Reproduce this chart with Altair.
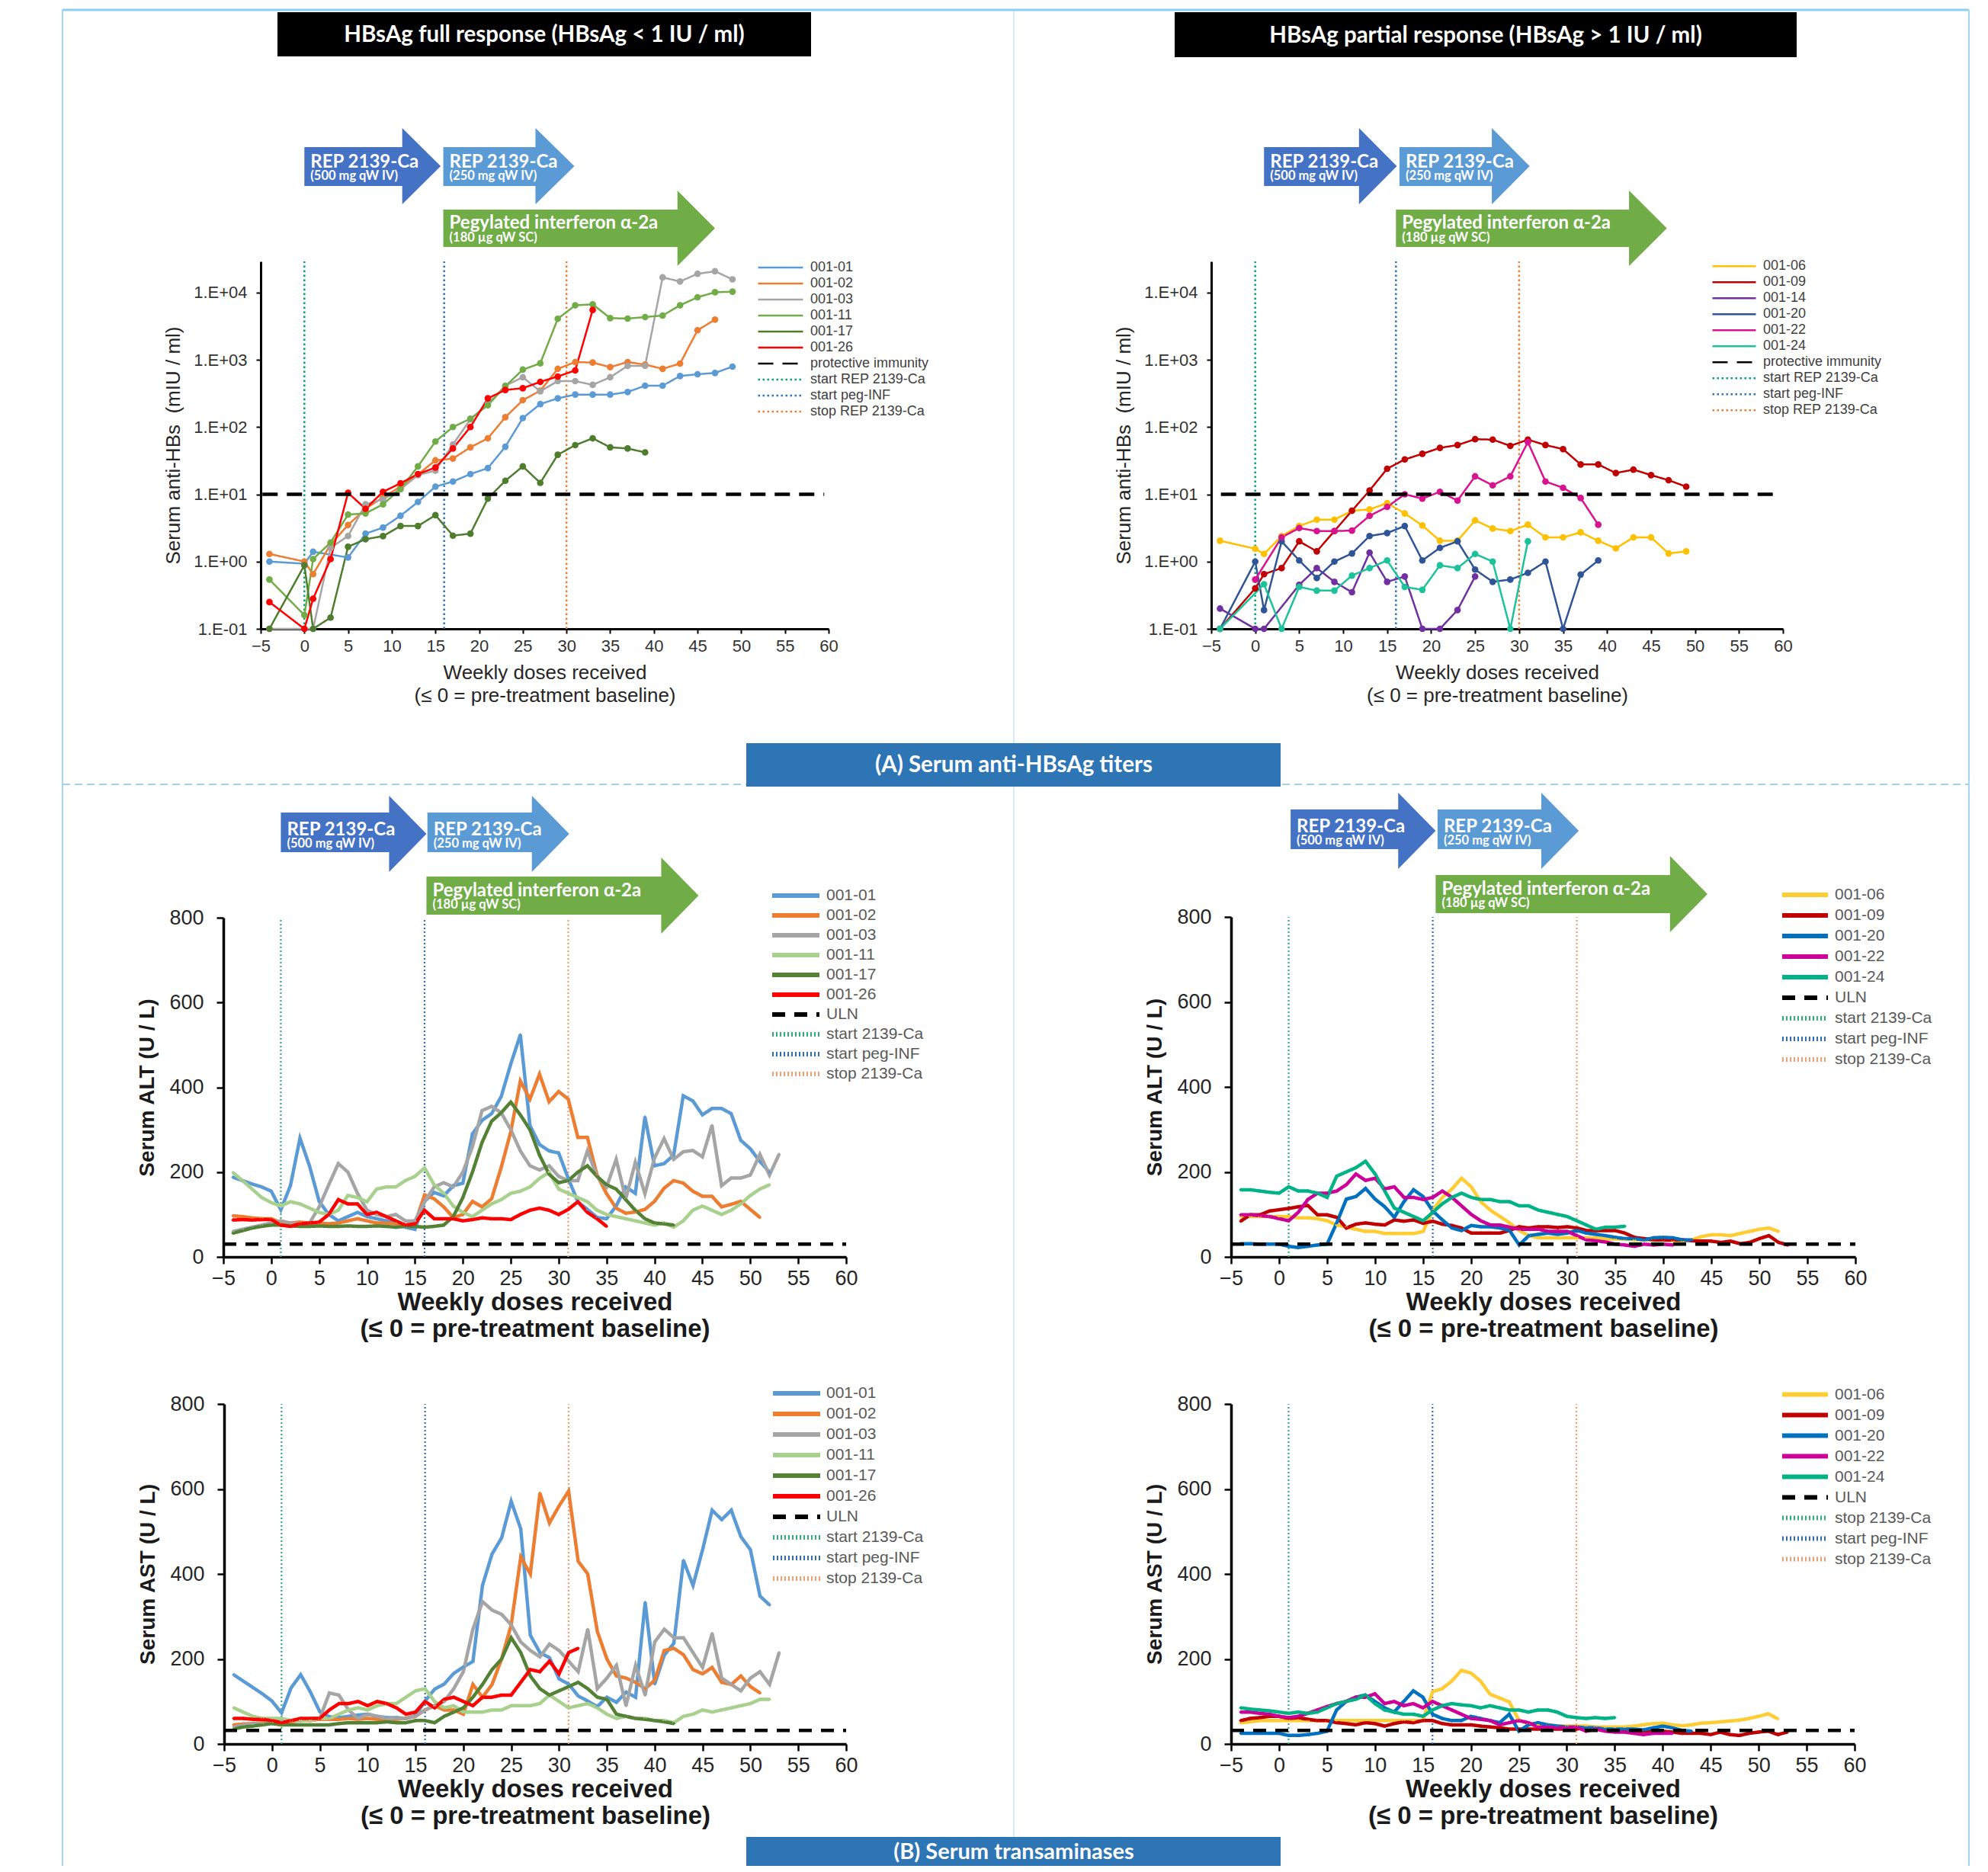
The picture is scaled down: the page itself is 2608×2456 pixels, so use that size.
import altair as alt
import pandas as pd

W, H = 2592, 2440


def P(v):
    return v - 8


AXF = "Liberation Sans"
BXF = "Lato"

# ---------------- (A) anti-HBs titers (mIU/ml) ----------------
TW = [-4, 0, 1, 3, 5, 7, 9, 11, 13, 15, 17, 19, 21, 23, 25, 27, 29, 31, 33, 35, 37, 39, 41, 43, 45, 47, 49]

anti_weeks_0101 = [-4, 0, 1, 5, 7, 9, 11, 13, 15, 17, 19, 21, 23, 25, 27, 29, 31, 33, 35, 37, 39, 41, 43, 45, 47, 49]
anti_0101 = [1.0, 0.93, 1.4, 1.15, 2.6, 3.2, 4.8, 7.7, 13, 15.5, 20, 24.5, 51, 136, 220, 267, 304, 304, 304, 332, 412, 412, 574, 610, 637, 792]
anti_0102 = [1.3, 1.0, 0.65, 1.8, 3.5, 6.1, 9.0, 13, 19.8, 32, 34, 50, 68, 140, 251, 347, 733, 926, 910, 778, 926, 849, 735, 879, 2750, 3960]
anti_0103 = [0.1, 0.1, 0.1, 1.6, 2.4, 7.1, 8.4, 11.9, 19.3, 22.5, 55, 130, 220, 412, 550, 340, 482, 482, 424, 550, 813, 813, 16800, 14600, 19000, 20700, 15700]
anti_0111 = [0.54, 0.16, 1.09, 1.92, 5.0, 5.2, 7.1, 12, 26, 61, 100, 133, 211, 405, 714, 886, 4070, 6460, 6680, 4170, 4100, 4320, 4550, 6460, 8510, 10100, 10300]
anti_0117 = [0.1, 0.88, 0.1, 0.147, 1.66, 2.15, 2.39, 3.38, 3.38, 4.9, 2.43, 2.6, 8.65, 15.9, 26, 14.8, 38.7, 53.8, 68, 50, 48, 42]
anti_0126 = [0.25, 0.1, 0.28, 1.09, 10.5, 6.1, 10.9, 14.6, 20, 25, 48, 100, 267, 356, 378, 470, 564, 695, 5510]

anti_0106 = [2.04, 1.55, 1.3, 2.39, 3.38, 4.2, 4.2, 5.7, 5.95, 7.4, 5.2, 3.44, 2.04, 2.04, 4.1, 3.1, 2.84, 3.53, 2.29, 2.29, 2.72, 2.04, 1.57, 2.29, 2.29, 1.32, 1.42]
anti_0109 = [0.1, 0.4, 0.65, 0.8, 2.0, 1.42, 2.84, 5.7, 11.4, 24, 33, 40, 49, 54, 66, 65, 52.5, 65, 54, 47, 27.8, 27.8, 20.7, 23.3, 19.3, 16.2, 13]
anti_weeks_0114 = [-4, 0, 1, 5, 7, 9, 11, 13, 15, 17, 19, 21, 23, 25]
anti_0114 = [0.2, 0.1, 0.1, 0.45, 0.8, 0.5, 0.35, 1.36, 0.5, 0.6, 0.1, 0.1, 0.19, 0.6]
anti_0120 = [0.1, 1.0, 0.19, 2.0, 1.04, 0.57, 1.0, 1.32, 2.4, 2.65, 3.38, 1.04, 1.6, 2.0, 0.76, 0.5, 0.54, 0.68, 1.0, 0.1, 0.64, 1.04]
anti_weeks_0122 = [0, 3, 5, 7, 9, 11, 13, 15, 17, 19, 21, 23, 25, 27, 29, 31, 33, 35, 37, 39]
anti_0122 = [0.54, 2.29, 3.15, 2.84, 2.84, 2.89, 4.79, 6.5, 10, 8.65, 10.9, 8.07, 18.5, 13.6, 18.5, 59.7, 15.5, 12.5, 8.8, 3.53]
anti_weeks_0124 = [-4, 1, 3, 5, 7, 9, 11, 13, 15, 17, 19, 21, 23, 25, 27, 29, 31]
anti_0124 = [0.1, 0.46, 0.1, 0.42, 0.37, 0.37, 0.62, 0.8, 1.04, 0.42, 0.38, 0.88, 0.8, 1.3, 1.0, 0.1, 2.0]

# ---------------- (B) ALT (U/L), weekly from week -4 ----------------
alt_0101 = [188, 180, 172, 165, 155, 111, 168, 280, 214, 131,
            100, 85, 95, 105, 95, 90, 85, 80, 70, 65,
            131, 152, 144, 168, 174, 290, 322, 338, 378, 455,
            524, 310, 265, 250, 245, 185, 130, 112, 93, 90,
            120, 165, 150, 330, 215, 220, 240, 380, 368, 335,
            350, 350, 338, 275, 255, 225, 200]
alt_0102 = [97, 95, 92, 90, 90, 81, 80, 82, 80, 80,
            78, 80, 85, 90, 85, 80, 80, 78, 75, 78,
            146, 137, 118, 93, 100, 131, 118, 137, 211, 295,
            415, 372, 431, 366, 390, 372, 282, 282, 193, 149,
            115, 103, 106, 112, 131, 162, 180, 174, 155, 143,
            143, 118, 124, 131, 112, 93]
alt_0103 = [60, 65, 70, 75, 80, 85, 80, 78, 80, 118,
            170, 220, 200, 150, 110, 100, 95, 100, 85, 85,
            130, 165, 175, 165, 200, 260, 345, 355, 340, 300,
            250, 215, 205, 215, 190, 180, 180, 250, 190, 165,
            230, 137, 223, 149, 233, 279, 230, 248, 251, 236,
            310, 168, 186, 186, 193, 242, 193, 242]
alt_0111 = [199, 180, 160, 140, 128, 120, 130, 125, 115, 105,
            100, 110, 145, 140, 130, 160, 165, 165, 180, 190,
            210, 170, 150, 120, 105, 95, 110, 125, 135, 150,
            155, 165, 185, 200, 160, 150, 140, 130, 110, 100,
            95, 90, 85, 80, 75, 80, 70, 85, 110, 120,
            110, 100, 110, 125, 145, 160, 170]
alt_0117 = [56, 62, 68, 72, 75, 75, 73, 72, 72, 73,
            72, 72, 73, 72, 72, 73, 72, 70, 72, 72,
            70, 72, 75, 95, 140, 200, 270, 320, 340, 365,
            335, 300, 240, 195, 175, 180, 200, 215, 190, 170,
            160, 135, 110, 90, 80, 78, 75]
alt_0126 = [87, 88, 87, 88, 88, 75, 72, 78, 80, 82,
            100, 135, 125, 125, 100, 105, 95, 85, 75, 78,
            110, 90, 90, 90, 85, 88, 92, 90, 90, 88,
            100, 110, 115, 110, 100, 112, 130, 105, 90, 72]
alt_0106 = [95, 95, 95, 95, 95, 95, 92, 92, 90, 85,
            75, 70, 65, 60, 60, 55, 55, 55, 55, 60,
            110, 140, 160, 185, 165, 130, 110, 95, 80, 62,
            50, 45, 45, 45, 45, 45, 45, 45, 42, 42,
            42, 40, 40, 40, 40, 38, 38, 40, 48, 52,
            52, 50, 55, 60, 65, 68, 60]
alt_0109 = [84, 99, 99, 108, 111, 114, 118, 121, 99, 99,
            93, 68, 77, 80, 77, 75, 87, 84, 87, 79,
            84, 77, 74, 68, 56, 56, 56, 56, 62, 71,
            68, 71, 71, 69, 71, 68, 62, 62, 62, 62,
            56, 46, 43, 40, 40, 40, 40, 38, 37, 37,
            34, 37, 31, 34, 43, 50, 34, 28]
alt_0120 = [31, 31, 30, 30, 30, 25, 22, 25, 28, 30,
            80, 136, 142, 161, 136, 118, 93, 130, 158, 142,
            108, 87, 68, 62, 74, 71, 71, 68, 62, 28,
            50, 53, 56, 53, 56, 62, 56, 53, 50, 46,
            43, 43, 40, 45, 46, 45, 40, 40]
alt_0122 = [99, 99, 97, 95, 90, 85, 105, 135, 150, 150,
            155, 170, 195, 180, 185, 160, 165, 140, 140, 135,
            140, 155, 140, 120, 100, 85, 75, 75, 70, 65,
            65, 65, 60, 60, 60, 50, 40, 38, 35, 30,
            28, 25, 30, 28, 30, 28]
alt_0124 = [158, 158, 155, 152, 150, 165, 155, 155, 150, 140,
            190, 200, 210, 225, 195, 155, 115, 105, 95, 85,
            105, 125, 140, 150, 140, 135, 135, 130, 130, 120,
            120, 110, 105, 100, 95, 85, 75, 65, 70, 70,
            72]

# ---------------- (B) AST (U/L), weekly from week -4 ----------------
ast_0101 = [163, 148, 133, 118, 101, 73, 132, 163, 123, 76,
            64, 62, 65, 68, 70, 65, 62, 62, 60, 67,
            101, 129, 141, 166, 181, 194, 373, 447, 485, 571,
            506, 256, 215, 203, 153, 141, 113, 101, 88, 110,
            98, 122, 110, 333, 141, 209, 237, 432, 373, 457,
            550, 528, 550, 488, 457, 348, 327]
ast_0102 = [45, 47, 48, 50, 50, 45, 52, 55, 55, 58,
            58, 58, 60, 58, 60, 58, 58, 58, 60, 65,
            80, 90, 80, 80, 70, 140, 110, 140, 200, 280,
            440, 400, 590, 520, 560, 595, 430, 400, 265, 200,
            160, 155, 145, 130, 150, 220, 225, 210, 175, 165,
            180, 145, 140, 160, 135, 120]
ast_0103 = [40, 45, 47, 48, 50, 55, 55, 55, 60, 60,
            120, 115, 80, 60, 70, 65, 60, 60, 60, 65,
            80, 90, 100, 130, 170, 270, 335, 315, 305, 280,
            240, 220, 205, 235, 220, 195, 170, 270, 130, 155,
            185, 90, 185, 115, 240, 270, 250, 250, 215, 180,
            260, 155, 140, 125, 155, 170, 140, 215]
ast_0111 = [85, 75, 65, 60, 60, 60, 55, 55, 55, 60,
            60, 70, 80, 85, 80, 90, 95, 95, 110, 125,
            130, 100, 85, 90, 75, 75, 75, 80, 80, 90,
            90, 90, 95, 115, 100, 85, 90, 95, 85, 70,
            60, 65, 60, 60, 55, 55, 50, 65, 70, 80,
            75, 80, 85, 90, 95, 105, 105]
ast_0117 = [35, 40, 42, 45, 48, 45, 45, 45, 45, 45,
            45, 48, 50, 50, 50, 50, 52, 50, 50, 55,
            55, 50, 65, 75, 85, 110, 140, 175, 200, 250,
            215, 160, 130, 115, 125, 135, 145, 130, 110, 105,
            70, 65, 60, 58, 55, 52, 48]
ast_0126 = [60, 60, 58, 58, 55, 50, 55, 60, 60, 60,
            80, 95, 95, 100, 90, 100, 95, 85, 70, 75,
            100, 85, 105, 110, 100, 90, 110, 110, 115, 115,
            145, 175, 170, 195, 165, 215, 225]
ast_0106 = [50, 52, 55, 55, 55, 55, 55, 55, 55, 55,
            55, 55, 55, 55, 55, 55, 55, 55, 55, 55,
            123, 130, 148, 173, 167, 148, 117, 108, 99, 56,
            48, 45, 45, 42, 42, 42, 42, 40, 40, 40,
            40, 42, 45, 48, 49, 45, 43, 45, 49, 50,
            52, 54, 56, 60, 65, 71, 59]
ast_0109 = [55, 60, 62, 65, 65, 60, 62, 58, 55, 55,
            50, 48, 45, 50, 48, 42, 48, 52, 50, 55,
            55, 48, 45, 45, 45, 42, 40, 38, 35, 35,
            35, 35, 35, 35, 35, 35, 38, 35, 32, 30,
            30, 30, 30, 30, 30, 28, 25, 25, 25, 22,
            28, 22, 20, 25, 28, 30, 22, 28]
ast_0120 = [25, 25, 25, 25, 25, 20, 20, 22, 25, 30,
            80, 100, 110, 115, 100, 85, 75, 100, 125, 110,
            70, 60, 55, 55, 65, 60, 55, 50, 70, 30,
            45, 50, 45, 42, 40, 40, 38, 38, 35, 35,
            35, 35, 33, 38, 42, 38, 32, 30]
ast_0122 = [75, 75, 72, 70, 65, 62, 65, 72, 80, 88,
            95, 100, 110, 110, 118, 95, 100, 90, 95, 85,
            100, 90, 80, 70, 60, 58, 55, 45, 50, 55,
            50, 40, 40, 38, 38, 40, 30, 35, 30, 28,
            28, 25, 22, 25, 25, 25]
ast_0124 = [85, 82, 80, 78, 75, 72, 75, 72, 75, 85,
            95, 100, 105, 115, 95, 80, 75, 70, 70, 65,
            80, 90, 95, 92, 90, 85, 90, 85, 80, 80,
            75, 80, 80, 75, 65, 62, 60, 62, 60, 62]


def wk(vals):
    return list(range(-4, -4 + len(vals)))


FULL = ["001-01", "001-02", "001-03", "001-11", "001-17", "001-26"]
PART_A = ["001-06", "001-09", "001-14", "001-20", "001-22", "001-24"]
PART_B = ["001-06", "001-09", "001-20", "001-22", "001-24"]

REF_A = ["protective immunity", "start REP 2139-Ca", "start peg-INF", "stop REP 2139-Ca"]
REF_B = ["ULN", "start 2139-Ca", "start peg-INF", "stop 2139-Ca"]
REF_B2 = ["ULN", "stop 2139-Ca", "start peg-INF", "stop 2139-Ca "]

XT_A = ["Weekly doses received", "(\u2264 0 = pre-treatment baseline)"]
YT_A = "Serum anti-HBs \u00a0(mIU / ml)"

STYLE_A = dict(sw=2.5, ps=75, pshape="circle", vw=2.5, vdash=[2.5, 3.5], hw=4.5, hdash=[20, 12],
               tfs=22, lc="#333333", xlp=6, ylp=12, ts=6, tw=2, dw=3,
               xtfs=26, ytfs=26, tfw="normal", tc="#262626", xtp=11, ytp=13, xlh=30,
               lfs=18, lsw=2.5, llc="#404040")
STYLE_B = dict(sw=4.5, ps=22, pshape="diamond", vw=2.2, vdash=[2, 3], hw=4.5, hdash=[17, 12],
               tfs=27, lc="#262626", xlp=6.5, ylp=17, ts=9, tw=2.5, dw=3.5,
               xtfs=33, ytfs=28, tfw="bold", tc="#1a1a1a", xtp=2, ytp=14, xlh=35,
               lfs=21, lsw=6, llc="#595959")

VCOL_A = ["#00A86B", "#2E75B6", "#ED7D31"]
VCOL_B = ["#2FAE78", "#2F6EBA", "#F0A070"]

C_ARR1, C_ARR2, C_ARR3 = "#4472C4", "#5B9BD5", "#70AD47"
SUB = 16.5

panels = [
    dict(x0=342, x1=1087, yb=825, yt=343, log=True, ydom=[0.1, 29000], yticks=[0.1, 1, 10, 100, 1000, 10000],
         ytitle=YT_A, xtitle=XT_A, style=STYLE_A,
         names=FULL, colors=["#5B9BD5", "#ED7D31", "#A5A5A5", "#70AD47", "#4E7D2E", "#FF0000"],
         weeks=[anti_weeks_0101, TW[:26], TW, TW, TW[:22], TW[:19]],
         vals=[anti_0101, anti_0102, anti_0103, anti_0111, anti_0117, anti_0126],
         refl=REF_A, refc=["#000000"] + VCOL_A, vweeks=[0, 16, 30], vcolors=VCOL_A,
         href=10, hx=[-4.8, 59.5],
         lx=993, ly=351, lrow=20.4, lsym=59, loff=8,
         arrows=[(0, 11.2, 15.6, 193, 244, 168, 268, C_ARR1), (15.9, 26.45, 30.9, 193, 244, 168, 268, C_ARR2),
                 (15.9, 42.7, 47.0, 275, 324, 250, 349, C_ARR3)],
         texts=[(0, 220, "REP 2139-Ca", 24), (0, 236, "(500 mg qW IV)", SUB),
                (15.9, 220, "REP 2139-Ca", 24), (15.9, 236, "(250 mg qW IV)", SUB),
                (15.9, 300, "Pegylated interferon \u03b1-2a", 24), (15.9, 317, "(180 \u00b5g qW SC)", SUB)]),
    dict(x0=1589, x1=2339, yb=825, yt=343, log=True, ydom=[0.1, 29000], yticks=[0.1, 1, 10, 100, 1000, 10000],
         ytitle=YT_A, xtitle=XT_A, style=STYLE_A,
         names=PART_A, colors=["#FFC000", "#C00000", "#7030A0", "#2F5597", "#D9128F", "#1BC29A"],
         weeks=[TW, TW, anti_weeks_0114, TW[:22], anti_weeks_0122, anti_weeks_0124],
         vals=[anti_0106, anti_0109, anti_0114, anti_0120, anti_0122, anti_0124],
         refl=REF_A, refc=["#000000"] + VCOL_A, vweeks=[0, 16, 30], vcolors=VCOL_A,
         href=10, hx=[-3.9, 59.1],
         lx=2245, ly=349.3, lrow=20.1, lsym=57, loff=8,
         arrows=[(1.0, 11.8, 16.1, 193, 244, 168, 268, C_ARR1), (16.4, 26.9, 31.2, 193, 244, 168, 268, C_ARR2),
                 (16.0, 42.5, 46.8, 275, 324, 250, 349, C_ARR3)],
         texts=[(1.0, 220, "REP 2139-Ca", 24), (1.0, 236, "(500 mg qW IV)", SUB),
                (16.4, 220, "REP 2139-Ca", 24), (16.4, 236, "(250 mg qW IV)", SUB),
                (16.0, 300, "Pegylated interferon \u03b1-2a", 24), (16.0, 317, "(180 \u00b5g qW SC)", SUB)]),
    dict(x0=293, x1=1110, yb=1649, yt=1204, log=False, ydom=[0, 800], yticks=[0, 200, 400, 600, 800],
         ytitle="Serum ALT (U / L)", xtitle=XT_A, style=STYLE_B,
         names=FULL, colors=["#5B9BD5", "#ED7D31", "#A5A5A5", "#A9D18E", "#548235", "#FF0000"],
         weeks=[wk(alt_0101), wk(alt_0102), wk(alt_0103), wk(alt_0111), wk(alt_0117), wk(alt_0126)],
         vals=[alt_0101, alt_0102, alt_0103, alt_0111, alt_0117, alt_0126],
         refl=REF_B, refc=["#000000"] + VCOL_B, vweeks=[1, 16, 31], vcolors=VCOL_B,
         href=30, hx=[-5, 60],
         lx=1010, ly=1175, lrow=25.3, lsym=62, loff=6,
         arrows=[(1.0, 12.3, 16.2, 1066, 1118, 1044, 1144, C_ARR1), (16.3, 27.2, 31.1, 1066, 1118, 1044, 1144, C_ARR2),
                 (16.2, 40.7, 44.6, 1150, 1200, 1125, 1225, C_ARR3)],
         texts=[(1.0, 1096, "REP 2139-Ca", 24), (1.0, 1112, "(500 mg qW IV)", SUB),
                (16.3, 1096, "REP 2139-Ca", 24), (16.3, 1112, "(250 mg qW IV)", SUB),
                (16.2, 1176, "Pegylated interferon \u03b1-2a", 24), (16.2, 1192, "(180 \u00b5g qW SC)", SUB)]),
    dict(x0=1615, x1=2434, yb=1649, yt=1203, log=False, ydom=[0, 800], yticks=[0, 200, 400, 600, 800],
         ytitle="Serum ALT (U / L)", xtitle=XT_A, style=STYLE_B,
         names=PART_B, colors=["#FFCC33", "#C00000", "#0070C0", "#CC0099", "#00B386"],
         weeks=[wk(alt_0106), wk(alt_0109), wk(alt_0120), wk(alt_0122), wk(alt_0124)],
         vals=[alt_0106, alt_0109, alt_0120, alt_0122, alt_0124],
         refl=REF_B, refc=["#000000"] + VCOL_B, vweeks=[1, 16, 31], vcolors=VCOL_B,
         href=30, hx=[-5, 60],
         lx=2335, ly=1174, lrow=26.2, lsym=60, loff=6,
         arrows=[(1.2, 12.4, 16.3, 1062, 1114, 1040, 1140, C_ARR1), (16.5, 27.3, 31.2, 1062, 1114, 1040, 1140, C_ARR2),
                 (16.3, 40.7, 44.6, 1148, 1198, 1123, 1223, C_ARR3)],
         texts=[(1.2, 1092, "REP 2139-Ca", 24), (1.2, 1108, "(500 mg qW IV)", SUB),
                (16.5, 1092, "REP 2139-Ca", 24), (16.5, 1108, "(250 mg qW IV)", SUB),
                (16.3, 1174, "Pegylated interferon \u03b1-2a", 24), (16.3, 1190, "(180 \u00b5g qW SC)", SUB)]),
    dict(x0=294, x1=1110, yb=2288, yt=1842, log=False, ydom=[0, 800], yticks=[0, 200, 400, 600, 800],
         ytitle="Serum AST (U / L)", xtitle=XT_A, style=STYLE_B,
         names=FULL, colors=["#5B9BD5", "#ED7D31", "#A5A5A5", "#A9D18E", "#548235", "#FF0000"],
         weeks=[wk(ast_0101), wk(ast_0102), wk(ast_0103), wk(ast_0111), wk(ast_0117), wk(ast_0126)],
         vals=[ast_0101, ast_0102, ast_0103, ast_0111, ast_0117, ast_0126],
         refl=REF_B, refc=["#000000"] + VCOL_B, vweeks=[1, 16, 31], vcolors=VCOL_B,
         href=32, hx=[-5, 60],
         lx=1011, ly=1828, lrow=26.2, lsym=62, loff=5, arrows=[], texts=[]),
    dict(x0=1615, x1=2433, yb=2288, yt=1842, log=False, ydom=[0, 800], yticks=[0, 200, 400, 600, 800],
         ytitle="Serum AST (U / L)", xtitle=XT_A, style=STYLE_B,
         names=PART_B, colors=["#FFCC33", "#C00000", "#0070C0", "#CC0099", "#00B386"],
         weeks=[wk(ast_0106), wk(ast_0109), wk(ast_0120), wk(ast_0122), wk(ast_0124)],
         vals=[ast_0106, ast_0109, ast_0120, ast_0122, ast_0124],
         refl=REF_B2, refc=["#000000"] + VCOL_B, vweeks=[1, 16, 31], vcolors=VCOL_B,
         href=32, hx=[-5, 60],
         lx=2335, ly=1829.6, lrow=26.8, lsym=60, loff=6, arrows=[], texts=[]),
]


def build_panel(c):
    s = c["style"]
    L = []
    xs = alt.Scale(domain=[-5, 60], range=[P(c["x0"]), P(c["x1"])], nice=False, zero=False)
    if c["log"]:
        ys = alt.Scale(type="log", domain=c["ydom"], range=[P(c["yb"]), P(c["yt"])], nice=False)
    else:
        ys = alt.Scale(domain=c["ydom"], range=[P(c["yb"]), P(c["yt"])], nice=False, zero=False)

    # vertical dotted treatment markers
    n = len(c["vweeks"])
    vdf = pd.DataFrame({"week": c["vweeks"], "c": c["vcolors"],
                        "ya": [c["ydom"][0]] * n, "yb": [c["ydom"][1]] * n})
    L.append(alt.Chart(vdf).mark_rule(strokeWidth=s["vw"], strokeDash=s["vdash"]).encode(
        x=alt.X("week:Q", scale=xs, axis=None),
        y=alt.Y("ya:Q", scale=ys, axis=None),
        y2="yb:Q",
        color=alt.Color("c:N", scale=None, legend=None)))

    rows = []
    for nm, ws, vs in zip(c["names"], c["weeks"], c["vals"]):
        assert len(ws) == len(vs), (nm, len(ws), len(vs))
        for w, v in zip(ws, vs):
            rows.append({"series": nm, "week": w, "value": v})
    df = pd.DataFrame(rows)

    labels = c["names"] + c["refl"]
    cols = c["colors"] + c["refc"]
    dashes = [[1, 0]] * len(c["names"]) + [s["hdash"], s["vdash"], s["vdash"], s["vdash"]]

    xaxis = alt.Axis(orient="bottom", offset=P(c["yb"]) - H, values=list(range(-5, 61, 5)),
                     title=c["xtitle"], grid=False, labelFont=AXF, labelFontSize=s["tfs"],
                     labelColor=s["lc"], labelPadding=s["xlp"], labelFlush=False, labelOverlap=False,
                     tickSize=s["ts"], tickWidth=s["tw"], tickColor="black", domainColor="black",
                     domainWidth=s["dw"], titleFont=AXF, titleFontSize=s["xtfs"],
                     titleFontWeight=s["tfw"], titleColor=s["tc"], titlePadding=s["xtp"],
                     titleLineHeight=s["xlh"])
    ykw = dict(orient="left", offset=-P(c["x0"]), values=c["yticks"], title=c["ytitle"], grid=False,
               labelFont=AXF, labelFontSize=s["tfs"], labelColor=s["lc"], labelPadding=s["ylp"],
               labelFlush=False, labelOverlap=False, tickSize=s["ts"], tickWidth=s["tw"],
               tickColor="black", domainColor="black", domainWidth=s["dw"], titleFont=AXF,
               titleFontSize=s["ytfs"], titleFontWeight=s["tfw"], titleColor=s["tc"],
               titlePadding=s["ytp"])
    if c["log"]:
        ykw["labelExpr"] = "'1.E' + (datum.value < 1 ? '-0' : '+0') + abs(round(log(datum.value) / LN10))"
    yaxis = alt.Axis(**ykw)

    leg = alt.Legend(orient="none", legendX=P(c["lx"]), legendY=P(c["ly"] - c["lrow"] / 2),
                     title=None, symbolType="stroke", symbolSize=c["lsym"] ** 2,
                     symbolStrokeWidth=s["lsw"], labelFont=AXF, labelFontSize=s["lfs"],
                     labelColor=s["llc"], labelOffset=c["loff"], clipHeight=c["lrow"],
                     rowPadding=0, padding=0, labelLimit=400)

    L.append(alt.Chart(df).mark_line(strokeWidth=s["sw"]).encode(
        x=alt.X("week:Q", scale=xs, axis=xaxis),
        y=alt.Y("value:Q", scale=ys, axis=yaxis),
        color=alt.Color("series:N", scale=alt.Scale(domain=labels, range=cols), legend=leg),
        strokeDash=alt.StrokeDash("series:N", scale=alt.Scale(domain=labels, range=dashes), legend=leg)))

    L.append(alt.Chart(df).mark_point(filled=True, size=s["ps"], shape=s["pshape"], opacity=1).encode(
        x=alt.X("week:Q", scale=xs, axis=None),
        y=alt.Y("value:Q", scale=ys, axis=None),
        color=alt.Color("series:N", scale=alt.Scale(domain=labels, range=cols), legend=None)))

    hdf = pd.DataFrame({"xa": [c["hx"][0]], "xb": [c["hx"][1]], "y": [c["href"]]})
    L.append(alt.Chart(hdf).mark_rule(color="black", strokeWidth=s["hw"], strokeDash=s["hdash"]).encode(
        x=alt.X("xa:Q", scale=xs, axis=None), x2="xb:Q",
        y=alt.Y("y:Q", scale=ys, axis=None)))

    if c["arrows"]:
        arows = []
        for i, (st, hb, tip, bt, bb, ht, hbm, col) in enumerate(c["arrows"]):
            m = (ht + hbm) / 2
            arows += [dict(id=i, x=st, yt=P(bt), yb=P(bb), c=col),
                      dict(id=i, x=hb, yt=P(bt), yb=P(bb), c=col),
                      dict(id=i, x=hb + 0.001, yt=P(ht), yb=P(hbm), c=col),
                      dict(id=i, x=tip, yt=P(m), yb=P(m), c=col)]
        adf = pd.DataFrame(arows)
        L.append(alt.Chart(adf).mark_area(orient="vertical", interpolate="linear", opacity=1).encode(
            x=alt.X("x:Q", scale=xs, axis=None),
            y=alt.Y("yt:Q", scale=None, axis=None, stack=None),
            y2="yb:Q",
            color=alt.Color("c:N", scale=None, legend=None),
            detail="id:N"))
        tdf = pd.DataFrame([dict(x=x, y=P(y), t=t, fs=fs) for (x, y, t, fs) in c["texts"]])
        L.append(alt.Chart(tdf).mark_text(align="left", baseline="alphabetic", font=BXF,
                                          fontWeight="bold", color="white", dx=8).encode(
            x=alt.X("x:Q", scale=xs, axis=None),
            y=alt.Y("y:Q", scale=None, axis=None),
            text="t:N",
            size=alt.Size("fs:Q", scale=None, legend=None)))
    return L


one = pd.DataFrame({"k": [0]})


def vrule(x, y0, y1, color, width, dash=None):
    kw = dict(color=color, strokeWidth=width)
    if dash:
        kw["strokeDash"] = dash
    return alt.Chart(one).mark_rule(**kw).encode(
        x=alt.value(P(x)), y=alt.value(P(y0)), y2=alt.value(P(y1)))


def hrule(y, x0, x1, color, width, dash=None):
    kw = dict(color=color, strokeWidth=width)
    if dash:
        kw["strokeDash"] = dash
    return alt.Chart(one).mark_rule(**kw).encode(
        y=alt.value(P(y)), x=alt.value(P(x0)), x2=alt.value(P(x1)))


def box(x0, x1, y0, y1, color):
    return alt.Chart(one).mark_rect(color=color).encode(
        x=alt.value(P(x0)), x2=alt.value(P(x1)), y=alt.value(P(y0)), y2=alt.value(P(y1)))


def label(x, y, text, size):
    return alt.Chart(one).mark_text(font=BXF, fontWeight="bold", fontSize=size, color="white",
                                    align="center", baseline="middle").encode(
        x=alt.value(P(x)), y=alt.value(P(y)), text=alt.value(text))


frame = [
    vrule(82, 13, 2448, "#A6D8F0", 2),
    vrule(2583, 13, 2448, "#A6D8F0", 2),
    vrule(1330, 13, 2410, "#C4E5F5", 1.5),
    hrule(1029, 82, 2583, "#9ED3EC", 2, [10, 6]),
    hrule(13, 82, 2583, "#8DCFEF", 3),
]

decor = [
    box(364, 1064, 16, 74, "#000000"),
    label(714, 46, "HBsAg full response (HBsAg < 1 IU / ml)", 29.5),
    box(1541, 2357, 16, 75, "#000000"),
    label(1949, 46.5, "HBsAg partial response (HBsAg > 1 IU / ml)", 29.5),
    box(979, 1680, 975, 1032, "#2E75B6"),
    label(1330, 1004, "(A) Serum anti-HBsAg titers", 29.5),
    box(979, 1680, 2410, 2448, "#2E75B6"),
    label(1330, 2430, "(B) Serum transaminases", 29),
]

layers = list(frame)
for pc in panels:
    layers += build_panel(pc)
layers += decor

chart = alt.layer(*layers).resolve_scale(
    x="independent", y="independent", color="independent", strokeDash="independent"
).resolve_legend(color="independent", strokeDash="independent").properties(
    width=W, height=H, autosize=alt.AutoSizeParams(type="none"), padding=0,
    background="white"
).configure_view(strokeWidth=0)

chart.save("out.html", embed_options={"renderer": "svg", "actions": False})
